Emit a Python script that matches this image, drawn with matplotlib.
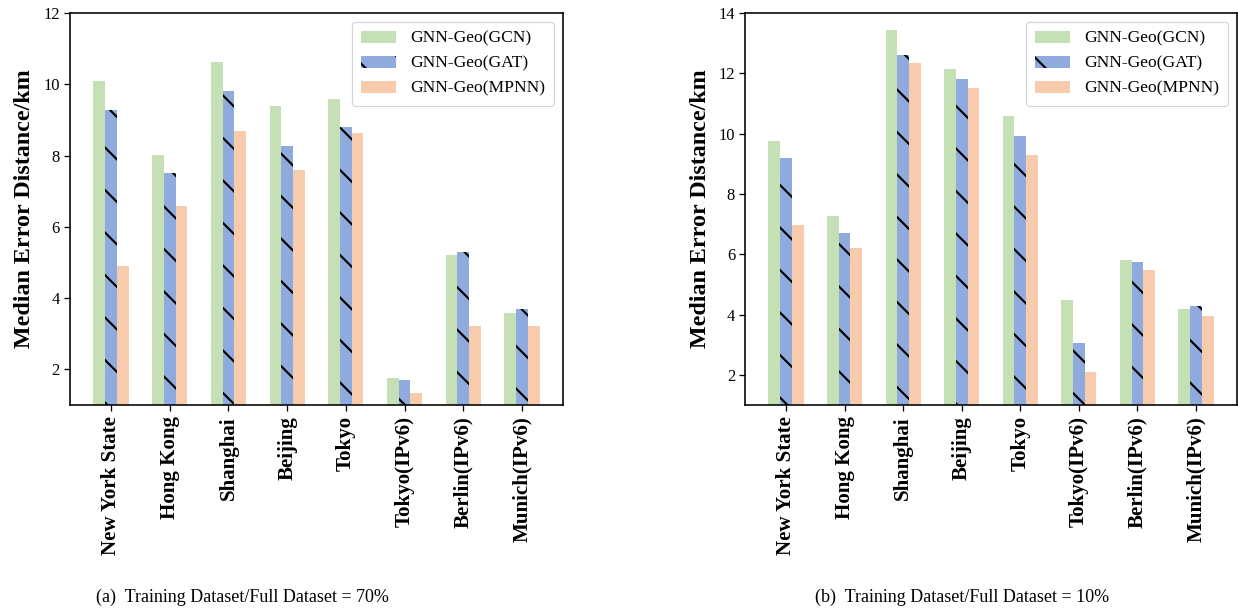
import matplotlib
matplotlib.use("Agg")
import matplotlib.pyplot as plt
import numpy as np

categories = ["New York State", "Hong Kong", "Shanghai", "Beijing", "Tokyo",
              "Tokyo(IPv6)", "Berlin(IPv6)", "Munich(IPv6)"]
series_names = ["GNN-Geo(GCN)", "GNN-Geo(GAT)", "GNN-Geo(MPNN)"]

gcn_70 = [10.09, 8.02, 10.63, 9.39, 9.58, 1.77, 5.21, 3.59]
gat_70 = [9.28, 7.51, 9.81, 8.26, 8.80, 1.70, 5.29, 3.69]
mpnn_70 = [4.89, 6.59, 8.68, 7.60, 8.64, 1.35, 3.23, 3.23]

gcn_10 = [9.76, 7.27, 13.43, 12.14, 10.57, 4.48, 5.81, 4.19]
gat_10 = [9.18, 6.71, 12.61, 11.82, 9.93, 3.05, 5.74, 4.28]
mpnn_10 = [6.97, 6.20, 12.33, 11.51, 9.29, 2.09, 5.48, 3.96]

captions = ["(a)  Training Dataset/Full Dataset = 70%",
            "(b)  Training Dataset/Full Dataset = 10%"]
ylims = [(1, 12), (1, 14)]
yticks = [[2, 4, 6, 8, 10, 12], [2, 4, 6, 8, 10, 12, 14]]

colors = ["#C5E0B4", "#8FAADC", "#F8CBAD"]
hatches = [None, "\\\\", None]

DPI = 255
W, H = 1238, 610
def pt(px):
    return px * 72.0 / DPI

plt.rcParams["font.family"] = ["Liberation Serif", "DejaVu Serif"]
plt.rcParams["hatch.linewidth"] = 0.6
plt.rcParams["axes.linewidth"] = pt(1.6)

fig = plt.figure(figsize=(W / DPI, H / DPI), dpi=DPI)

axes_px = [(70, 13, 563, 405), (745, 13, 1237, 405)]
data = [(gcn_70, gat_70, mpnn_70), (gcn_10, gat_10, mpnn_10)]
caption_x = [242, 962]

x = np.arange(len(categories))
width = 0.2
for i in range(2):
    l, t, r, b = axes_px[i]
    ax = fig.add_axes([l / W, (H - b) / H, (r - l) / W, (b - t) / H])
    for j, vals in enumerate(data[i]):
        ax.bar(x + (j - 1) * width, vals, width, color=colors[j],
               hatch=hatches[j], edgecolor="black", linewidth=0,
               label=series_names[j])
    ax.set_xlim(-0.7, 7.7)
    ax.set_ylim(*ylims[i])
    ax.set_yticks(yticks[i])
    ax.set_xticks(x)
    ax.set_xticklabels(categories, rotation=90, fontweight="bold",
                       fontsize=pt(21))
    ax.tick_params(axis="y", labelsize=pt(16.5), length=pt(6), width=pt(1.3),
                   pad=pt(4))
    ax.tick_params(axis="x", length=pt(6), width=pt(1.3), pad=pt(5))
    ax.set_ylabel("Median Error Distance/km", fontweight="bold",
                  fontsize=pt(24), labelpad=pt(8))
    leg = ax.legend(loc="upper right", fontsize=pt(17.5), handlelength=2.0,
                    handletextpad=0.85, labelspacing=0.5, borderpad=0.5,
                    framealpha=0.8, edgecolor="0.8")
    leg.get_frame().set_linewidth(pt(1.2))
    fig.text(caption_x[i] / W, 1 - 597 / H, captions[i], ha="center",
             va="center", fontsize=pt(18))

fig.savefig("out.png", dpi=DPI)
